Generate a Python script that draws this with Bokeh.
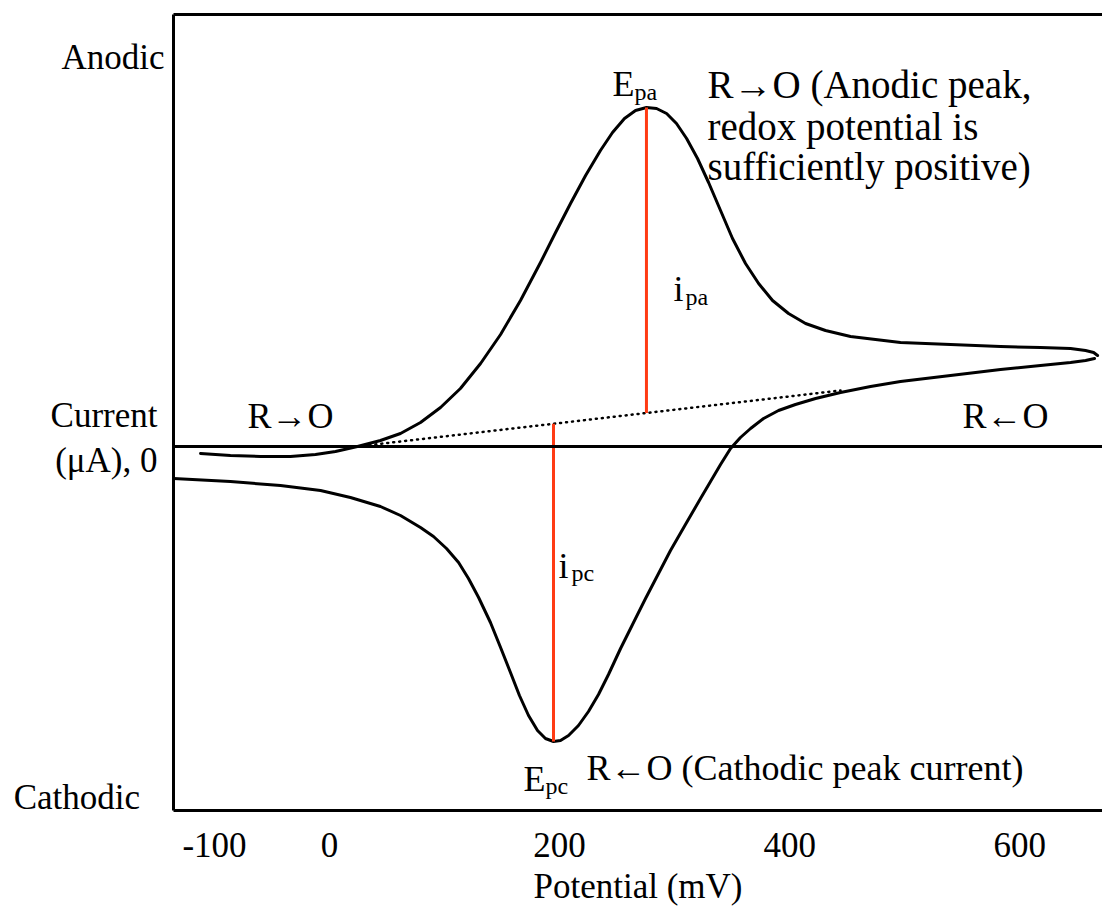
from bokeh.plotting import figure
from bokeh.models import Range1d, FixedTicker, LinearAxis, Span
from bokeh.core.properties import value
from bokeh.embed import file_html
from bokeh.resources import INLINE
import numpy as np

# ---- data (potential in mV, current in arbitrary µA units) ----
fwd_x = [-112.1, -86.1, -60.0, -33.9, -12.2, 5.2, 24.3, 44.3, 61.7, 79.1, 96.5, 113.8,
         131.3, 148.7, 166.0, 183.4, 196.5, 209.5, 222.6, 235.5, 246.0, 256.4, 266.0,
         275.5, 284.3, 293.0, 301.6, 310.4, 319.9, 329.5, 339.9, 350.3, 361.6, 373.0,
         385.1, 399.0, 413.8, 431.1, 452.9, 496.3, 539.8, 583.3, 618.0, 644.1, 657.2,
         664.2, 667.6]
fwd_y = [-0.7, -0.9, -1.0, -1.0, -0.8, -0.5, 0.0, 0.6, 1.3, 2.4, 3.9, 5.8, 8.3, 11.2,
         14.6, 18.4, 21.4, 24.3, 27.1, 29.6, 31.4, 32.8, 33.6, 33.9, 33.8, 33.3, 32.3,
         30.8, 28.8, 26.4, 23.6, 20.8, 18.3, 16.3, 14.6, 13.3, 12.3, 11.6, 11.0, 10.4,
         10.2, 10.0, 9.9, 9.8, 9.6, 9.4, 9.1]
rev_x = [665.0, 657.2, 644.1, 618.0, 583.3, 539.8, 496.3, 470.3, 444.2, 422.5, 405.0,
         390.3, 377.3, 366.0, 357.2, 348.6, 339.9, 331.2, 322.5, 309.4, 296.4, 286.0,
         274.7, 263.4, 253.0, 242.5, 233.8, 225.1, 216.4, 207.8, 200.8, 194.7, 187.7,
         180.8, 173.0, 165.1, 157.3, 148.7, 139.9, 129.6, 120.8, 112.2, 101.7, 90.4,
         79.1, 61.7, 44.3, 18.2, -7.8, -42.6, -86.1, -135.6]
rev_y = [8.8, 8.6, 8.4, 8.1, 7.7, 7.1, 6.5, 6.0, 5.4, 4.8, 4.2, 3.6, 2.8, 1.8, 0.9, -0.2,
         -1.8, -3.5, -5.2, -7.8, -10.4, -12.7, -15.2, -17.8, -20.2, -22.8, -24.8, -26.5,
         -27.9, -28.9, -29.4, -29.5, -29.2, -28.4, -26.9, -24.9, -22.6, -20.1, -17.6,
         -15.1, -13.2, -11.6, -10.2, -9.0, -8.1, -6.9, -6.0, -5.1, -4.4, -3.9, -3.5, -3.2]
base_x = [24.3, 444.2]
base_y = [0.0, 5.6]
E_pa, i_pa_peak = 275.5, 33.9
E_pc, i_pc_peak = 194.7, -29.5

x_ticks = [-100, 0, 200, 400, 600]
x_tick_labels = ["-100", "0", "200", "400", "600"]
y_ticks = [38.9, 3.1, -1.4, -35.1]
y_tick_labels = ["Anodic", "Current\u2009", "(μA), 0\u2009", "Cathodic\u00a0\u00a0\u2009"]

FONT = "Liberation Serif"
RED = "#ff3b14"
X0, X1 = -135.6, 671.9

p = figure(width=1102, height=917, x_range=Range1d(X0, X1),
           y_range=Range1d(-36.4, 43.2), output_backend="svg", toolbar_location=None,
           min_border_left=173, min_border_right=0, min_border_top=14,
           min_border_bottom=107, x_axis_location=None, y_axis_location=None)
p.outline_line_color = None
p.xgrid.visible = False
p.ygrid.visible = False
p.background_fill_color = "white"
p.border_fill_color = "white"

xaxis = LinearAxis(ticker=FixedTicker(ticks=x_ticks), axis_label="Potential (mV)",
                   major_label_overrides={t: s for t, s in zip(x_ticks, x_tick_labels)})
xaxis.axis_line_width = 3
xaxis.major_tick_line_color = None
xaxis.minor_tick_line_color = None
xaxis.major_label_text_font = FONT
xaxis.major_label_text_font_size = "35px"
xaxis.major_label_text_color = "black"
xaxis.major_label_standoff = 16
xaxis.axis_label_text_font = FONT
xaxis.axis_label_text_font_size = "35px"
xaxis.axis_label_text_font_style = "normal"
xaxis.axis_label_text_color = "black"
xaxis.axis_label_standoff = 7
p.add_layout(xaxis, "below")

yaxis = LinearAxis(ticker=FixedTicker(ticks=y_ticks),
                   major_label_overrides={t: s for t, s in zip(y_ticks, y_tick_labels)})
yaxis.axis_line_width = 3
yaxis.major_tick_line_color = None
yaxis.minor_tick_line_color = None
yaxis.major_tick_out = 0
yaxis.major_label_text_font = FONT
yaxis.major_label_text_font_size = "35px"
yaxis.major_label_text_color = "black"
yaxis.major_label_standoff = 9
p.add_layout(yaxis, "left")

top = LinearAxis(ticker=FixedTicker(ticks=[]))
top.axis_line_width = 3
top.major_tick_line_color = None
top.minor_tick_line_color = None
top.major_label_text_font_size = "0px"
top.major_label_standoff = 0
p.add_layout(top, "above")

p.add_layout(Span(location=0, dimension="width", line_color="black", line_width=2.8))

# curve
p.line(fwd_x, fwd_y, line_color="black", line_width=3, line_join="round", line_cap="round")
p.line(rev_x, rev_y, line_color="black", line_width=3, line_join="round", line_cap="round")
# baseline (dotted)
p.line(base_x, base_y, line_color="black", line_width=2.5, line_dash="1 5", line_cap="round")

# peak current lines
b_pa = float(np.interp(E_pa, base_x, base_y))
b_pc = float(np.interp(E_pc, base_x, base_y))
p.segment([E_pa, E_pc], [b_pa, b_pc], [E_pa, E_pc], [i_pa_peak, i_pc_peak],
          line_color=RED, line_width=3)

big = "36px"
small = "24px"
kw = dict(text_font=value(FONT), text_color="black", text_baseline="alphabetic")

p.text([-33.9, 587.6], [3.1, 3.1], text=["R→O", "R←O"], text_font_size=big,
       text_align="center", **kw)
p.text([328.6, 328.6, 328.6], [36.2, 32.0, 28.0],
       text=["R→O (Anodic peak,", "redox potential is", "sufficiently positive)"],
       text_font_size="39px", text_align="left", **kw)
p.text([223.4], [-32.1], text=["R←O (Cathodic peak current)"], text_font_size=big,
       text_align="left", **kw)

# E_pa, E_pc, i_pa, i_pc with subscripts
p.text([265.1, 187.7], [36.3, -33.2], text=["E", "E"], text_font_size=big,
       text_align="right", **kw)
p.text([265.1, 187.7], [35.5, -33.9], text=["pa", "pc"], text_font_size=small,
       text_align="left", **kw)
p.text([299.1, 199.0], [15.8, -11.9], text=["i", "i"], text_font_size=big,
       text_align="left", **kw)
p.text([309.4, 210.3], [15.0, -12.6], text=["pa", "pc"], text_font_size=small,
       text_align="left", **kw)

open("out.html", "w").write(file_html(p, INLINE))
